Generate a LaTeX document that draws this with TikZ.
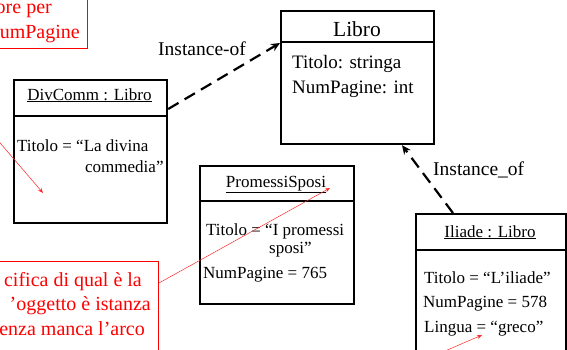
\documentclass[tikz,border=0pt]{standalone}
\usepackage{fontspec}
\setmainfont{Liberation Serif}
\usetikzlibrary{arrows.meta,positioning}
\definecolor{nota}{RGB}{255,0,0}

\tikzset{
  box/.style={draw, line width=2.2pt, inner sep=0pt, anchor=north west},
  sep/.style={line width=2.2pt},
  txt/.style={inner sep=0pt, anchor=base west, font=\fontsize{17}{20}\selectfont},
  head/.style={inner sep=0pt, anchor=base, font=\fontsize{17}{20}\selectfont},
  ctxt/.style={txt, font=\fontsize{19}{23}\selectfont},
  lbl/.style={txt, font=\fontsize{19.5}{23}\selectfont},
  notebox/.style={draw=nota, line width=1pt, inner sep=0pt},
  notetxt/.style={inner sep=0pt, anchor=base east, text=nota, font=\fontsize{20}{24}\selectfont},
  inst/.style={line width=2.2pt, dash pattern=on 12pt off 7pt, -{Stealth[length=9pt,width=8pt]}},
  ptr/.style={nota!85, line width=0.5pt, -{Stealth[length=5pt,width=4pt]}}
}

\begin{document}
\begin{tikzpicture}[x=1pt,y=-1pt]
\useasboundingbox (0,0) rectangle (567,349);
\clip (0,0) rectangle (567,349);

% classe Libro
\node[box, minimum width=153pt, minimum height=133pt] (libro) at (280,10) {};
\draw[sep] ([yshift=-32pt]libro.north west) -- ([yshift=-32pt]libro.north east);
\node[head, font=\fontsize{21.5}{24}\selectfont] (libroT) at (357,36) {Libro};
\node[ctxt] (libroA1) at (292,68) {Titolo: stringa};
\node[ctxt] (libroA2) at (292,93) {NumPagine: int};

% oggetto DivComm
\node[box, minimum width=153pt, minimum height=143pt] (divcomm) at (13,79) {};
\draw[sep] ([yshift=-37pt]divcomm.north west) -- ([yshift=-37pt]divcomm.north east);
\node[head] (divcommT) at (89.5,100) {\underline{DivComm : Libro}};
\node[txt] (divcommA1) at (17,151) {Titolo = “La divina};
\node[txt] (divcommA2) at (85,172) {commedia”};

% oggetto PromessiSposi
\node[box, minimum width=154pt, minimum height=138pt] (promessi) at (199,165) {};
\draw[sep] ([yshift=-36pt]promessi.north west) -- ([yshift=-36pt]promessi.north east);
\node[head] (promessiT) at (276,187) {\underline{PromessiSposi}};
\node[txt] (promessiA1) at (206,235) {Titolo = “I promessi};
\node[txt] (promessiA2) at (269,253) {sposi”};
\node[txt] (promessiA3) at (203,278) {NumPagine = 765};

% oggetto Iliade
\node[box, minimum width=150pt, minimum height=160pt] (iliade) at (415,213) {};
\draw[sep] ([yshift=-37pt]iliade.north west) -- ([yshift=-37pt]iliade.north east);
\node[head] (iliadeT) at (490,237) {\underline{Iliade : Libro}};
\node[txt] (iliadeA1) at (424,283) {Titolo = “L’iliade”};
\node[txt] (iliadeA2) at (423,307) {NumPagine = 578};
\node[txt] (iliadeA3) at (424,332) {Lingua = “greco”};

% instance-of
\draw[inst] ([yshift=-30pt]divcomm.north east) -- ([yshift=-33pt]libro.north west);
\node[lbl] (lbl1) at (158,55) {Instance-of};
\draw[inst] ([xshift=38pt]iliade.north west) -- ([xshift=122pt]libro.south west);
\node[lbl] (lbl2) at (433,175) {Instance\_of};

% note
\node[notebox, anchor=south east, minimum width=150pt, minimum height=80pt] (nota1) at (88,49) {};
\node[notetxt] (nota1a) at (52,13) {ore per};
\node[notetxt] (nota1b) at (80,38) {umPagine};

\node[notebox, anchor=north east, minimum width=220pt, minimum height=120pt] (nota2) at (159,261) {};
\node[notetxt] (nota2a) at (142,286) {cifica di qual è la};
\node[notetxt] (nota2b) at (151,310) {’oggetto è istanza};
\node[notetxt] (nota2c) at (145,335) {enza manca l’arco};

% frecce delle note
\coordinate (p1a) at (-5,137);
\coordinate (p1b) at (43,193);
\draw[ptr] (p1a) -- (p1b);
\coordinate (p2) at (330,188);
\draw[ptr] ([yshift=-22pt]nota2.north east) -- (p2);
\coordinate (p3a) at (438,354);
\coordinate (p3b) at (482,335);
\draw[ptr] (p3a) -- (p3b);
\end{tikzpicture}
\end{document}
